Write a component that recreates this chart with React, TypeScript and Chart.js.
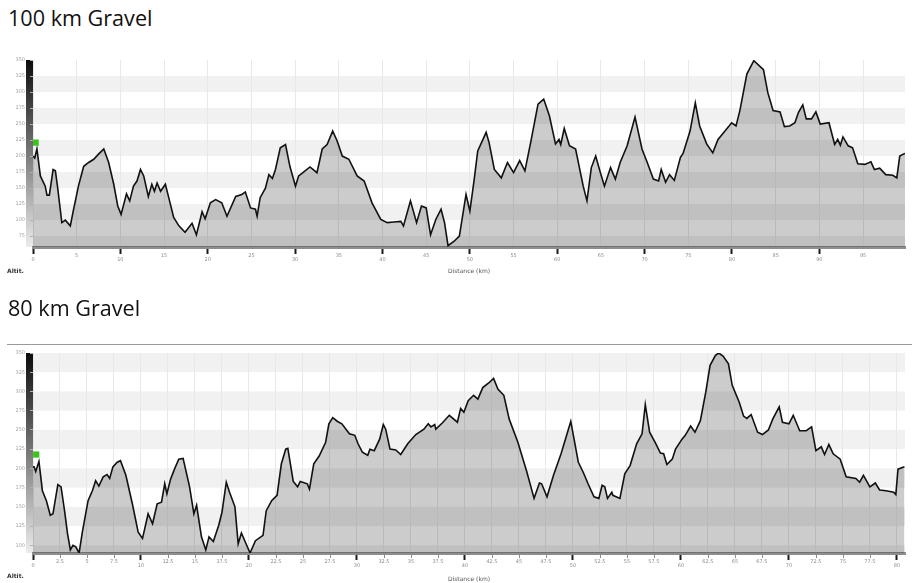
import React, { useEffect, useRef } from "react";
import { Chart, registerables } from "chart.js";

Chart.register(...registerables);

// ---------- 100 km Gravel ----------
const dist100 = [
  0, 0.2, 0.45, 0.84, 1.4, 1.6, 1.87, 2.3, 2.56, 2.8, 3.3, 3.7, 4.27, 4.65, 5.2, 5.8, 6.37, 6.95, 7.5, 8.1,
  8.66, 9.24, 9.7, 10.08, 10.7, 11.07, 11.5, 11.9, 12.3, 12.67, 13.2, 13.6, 13.9, 14.2, 14.6, 15.15, 15.5, 16.1, 16.7, 17.4,
  18.2, 18.7, 19.35, 19.7, 20.3, 20.9, 21.6, 22.2, 23.2, 23.9, 24.3, 24.9, 25.46, 25.65, 26.0, 26.6, 27.0, 27.4, 27.75, 28.3,
  28.9, 29.4, 30.04, 30.4, 30.6, 31.7, 32.5, 33.1, 33.66, 34.3, 34.8, 35.4, 36.15, 37.1, 37.9, 38.8, 39.8, 40.55, 41.3, 42.1,
  42.4, 43.2, 43.9, 44.46, 45.0, 45.5, 46.1, 46.7, 47.1, 47.5, 48.2, 48.8, 49.56, 50.0, 50.5, 50.9, 51.5, 51.86, 52.2, 52.8,
  53.6, 54.3, 55.0, 55.7, 56.3, 57.0, 57.8, 58.45, 59.1, 59.8, 60.2, 60.4, 60.8, 61.4, 62.1, 62.97, 63.4, 63.9, 64.4, 64.94,
  65.4, 66.1, 66.65, 67.2, 68.0, 68.9, 69.7, 70.3, 71.0, 71.6, 71.9, 72.4, 72.85, 73.4, 74.1, 74.4, 75.2, 75.8, 76.3, 77.1,
  77.8, 78.4, 79.2, 79.96, 80.46, 80.9, 81.7, 82.5, 83.6, 84.1, 84.7, 85.5, 86.0, 86.6, 87.2, 87.6, 88.1, 88.5, 89.1, 89.6,
  90.1, 91.1, 91.75, 92.1, 92.4, 92.7, 93.3, 93.8, 94.4, 95.2, 95.9, 96.3, 96.9, 97.6, 98.4, 98.86, 99.2, 99.6, 99.8,
];
const elev100 = [
  200, 197, 211, 169, 153, 139, 139, 179, 177, 153, 96, 100, 91, 117, 153, 184, 190, 195, 203, 211,
  190, 156, 122, 109, 141, 130, 153, 161, 179, 169, 137, 156, 145, 158, 145, 156, 137, 104, 91, 81,
  95, 77, 113, 102, 127, 132, 127, 106, 137, 140, 144, 119, 117, 106, 135, 150, 171, 165, 179, 213,
  218, 184, 153, 169, 171, 183, 174, 211, 218, 239, 224, 200, 195, 169, 161, 127, 101, 96, 97, 98,
  91, 130, 96, 122, 119, 77, 101, 117, 96, 60, 67, 75, 140, 114, 164, 208, 226, 237, 221, 179,
  166, 190, 174, 193, 177, 224, 281, 289, 263, 219, 226, 218, 243, 216, 211, 153, 130, 182, 200, 174,
  153, 182, 164, 190, 216, 261, 211, 190, 164, 161, 179, 159, 171, 162, 198, 204, 239, 283, 247, 219,
  205, 226, 239, 252, 247, 271, 328, 349, 335, 299, 271, 269, 246, 247, 252, 268, 280, 258, 258, 269,
  250, 252, 218, 226, 217, 230, 216, 213, 188, 187, 191, 179, 181, 171, 170, 166, 200, 203, 204,
];
const xTicks100 = [0, 5, 10, 15, 20, 25, 30, 35, 40, 45, 50, 55, 60, 65, 70, 75, 80, 85, 90, 95];
const yTicks100 = [75, 100, 125, 150, 175, 200, 225, 250, 275, 300, 325, 350];
const markerDist100 = [0.3];
const markerElev100 = [221];

// ---------- 80 km Gravel ----------
const dist80 = [
  0, 0.1, 0.25, 0.55, 0.87, 1.24, 1.6, 1.85, 2.3, 2.6, 2.94, 3.2, 3.46, 3.7, 3.96, 4.27, 4.57, 5.1, 5.5, 5.8,
  6.1, 6.5, 6.86, 7.1, 7.4, 7.8, 8.1, 8.6, 9.2, 9.74, 10.14, 10.66, 11.07, 11.5, 11.9, 12.2, 12.4, 12.74, 13.1, 13.5,
  13.9, 14.5, 14.9, 15.15, 15.6, 16.0, 16.3, 16.7, 17.2, 17.5, 17.9, 18.2, 18.7, 19.0, 19.3, 20.1, 20.6, 21.3, 21.6, 22.1,
  22.6, 23.0, 23.4, 23.6, 24.1, 24.5, 24.75, 25.4, 25.6, 26.0, 26.5, 27.1, 27.4, 27.76, 28.2, 28.6, 29.3, 29.8, 30.1, 30.5,
  31.0, 31.2, 31.6, 32.1, 32.44, 32.66, 33.06, 33.6, 34.05, 34.7, 35.45, 36.2, 36.6, 36.85, 37.2, 37.3, 37.9, 38.55, 39.3, 39.6,
  39.9, 40.3, 40.8, 41.2, 41.65, 42.2, 42.65, 43.05, 43.6, 44.1, 44.9, 45.7, 46.4, 46.9, 47.1, 47.6, 48.2, 48.9, 49.8, 50.5,
  50.95, 51.4, 51.95, 52.4, 52.7, 52.95, 53.2, 53.6, 53.7, 54.35, 54.8, 55.3, 55.9, 56.4, 56.7, 57.1, 57.6, 58.1, 58.4, 58.7,
  59.2, 59.5, 60.1, 60.4, 60.9, 61.3, 61.8, 62.3, 62.7, 63.2, 63.5, 63.9, 64.4, 64.75, 65.4, 65.8, 66.1, 66.5, 67.1, 67.55,
  68.1, 68.5, 69.1, 69.4, 70.0, 70.4, 71.0, 71.6, 72.1, 72.5, 73.0, 73.3, 73.7, 74.1, 74.75, 75.3, 76.2, 76.55, 76.9, 77.5,
  78.0, 78.4, 79.0, 79.7, 79.9, 80.1, 80.7,
];
const elev80 = [
  202, 202, 196, 209, 171, 158, 139, 141, 179, 176, 143, 115, 94, 100, 98, 90, 117, 158, 171, 184,
  177, 189, 192, 187, 202, 208, 210, 191, 154, 117, 109, 141, 128, 154, 156, 180, 167, 186, 199, 212,
  213, 176, 141, 152, 111, 94, 111, 105, 126, 143, 182, 169, 150, 102, 116, 90, 106, 113, 145, 158,
  165, 206, 225, 226, 183, 176, 183, 180, 173, 206, 216, 234, 258, 266, 261, 258, 245, 243, 232, 221,
  217, 225, 223, 238, 257, 251, 225, 224, 218, 232, 244, 251, 258, 254, 257, 251, 259, 269, 260, 278,
  273, 288, 295, 290, 305, 311, 317, 303, 295, 264, 234, 197, 161, 181, 180, 163, 191, 219, 261, 208,
  195, 180, 163, 161, 178, 176, 161, 169, 165, 161, 193, 204, 232, 245, 283, 247, 234, 220, 219, 205,
  212, 225, 238, 243, 255, 247, 262, 299, 334, 347, 350, 346, 336, 308, 286, 268, 265, 270, 247, 244,
  250, 264, 280, 260, 258, 269, 249, 249, 254, 223, 228, 218, 231, 219, 212, 189, 187, 182, 191, 176,
  181, 172, 171, 169, 166, 199, 202,
];
const xTicks80 = [
  0, 2.5, 5, 7.5, 10, 12.5, 15, 17.5, 20, 22.5, 25, 27.5, 30, 32.5, 35, 37.5, 40, 42.5, 45, 47.5,
  50, 52.5, 55, 57.5, 60, 62.5, 65, 67.5, 70, 72.5, 75, 77.5, 80,
];
const yTicks80 = [100, 125, 150, 175, 200, 225, 250, 275, 300, 325, 350];
const markerDist80 = [0.3];
const markerElev80 = [218];

const TICK_FONT = "'DejaVu Sans', sans-serif";
const isMajor = (v: number) => Math.abs(v % 10) < 1e-6;

const backdropPlugin = {
  id: "backdrop",
  beforeDraw(chart: any, _args: any, opts: any) {
    const { ctx, chartArea: a, scales } = chart;
    const y = scales.y;
    const L = opts.firstTick as number;
    const step = 25;
    ctx.save();
    ctx.fillStyle = "#ffffff";
    ctx.fillRect(a.left, a.top, a.right - a.left, a.bottom - a.top);
    for (let k = -1; L + k * step < y.max; k++) {
      if (k % 2 === 0) continue;
      const lo = Math.max(L + k * step, y.min);
      const hi = Math.min(L + (k + 1) * step, y.max);
      const yt = y.getPixelForValue(hi);
      const yb = y.getPixelForValue(lo);
      ctx.fillStyle = "#f1f1f1";
      ctx.fillRect(a.left, yt, a.right - a.left, yb - yt);
    }
    const g = ctx.createLinearGradient(0, a.top, 0, a.bottom);
    g.addColorStop(0, "#0c0c0c");
    g.addColorStop(0.45, "#6e6e6e");
    g.addColorStop(1, "#ececec");
    ctx.fillStyle = g;
    ctx.fillRect(a.left - 7, a.top, 7, a.bottom - a.top);
    ctx.restore();
  },
  afterDraw(chart: any, _args: any, opts: any) {
    if (!opts.minorTicks) return;
    const { ctx, chartArea: a, scales } = chart;
    const x = scales.x;
    ctx.save();
    ctx.strokeStyle = "#8c8c8c";
    ctx.lineWidth = 1;
    for (const t of x.ticks) {
      if (isMajor(t.value)) continue;
      const px = Math.round(x.getPixelForValue(t.value)) + 0.5;
      ctx.beginPath();
      ctx.moveTo(px, a.bottom + 1);
      ctx.lineTo(px, a.bottom + 5);
      ctx.stroke();
    }
    ctx.restore();
  },
};

function buildConfig(
  dist: number[],
  elev: number[],
  mDist: number[],
  mElev: number[],
  xTicks: number[],
  yTicks: number[],
  xMax: number,
  yMin: number,
  padTop: number,
  axisHeight: number,
  titlePadBottom: number,
  minorTicks: boolean
): any {
  return {
    type: "line",
    data: {
      datasets: [
        {
          data: mDist.map((d, i) => ({ x: d, y: mElev[i] })),
          showLine: false,
          pointStyle: "rect",
          pointRadius: 4.4,
          pointBackgroundColor: "#3cc21c",
          pointBorderWidth: 0,
          fill: false,
        },
        {
          data: dist.map((d, i) => ({ x: d, y: elev[i] })),
          borderColor: "#111111",
          borderWidth: 1.6,
          pointRadius: 0,
          tension: 0,
          fill: "start",
          backgroundColor: "rgba(0,0,0,0.2)",
        },
      ],
    },
    options: {
      animation: false,
      responsive: false,
      maintainAspectRatio: false,
      events: [],
      layout: { padding: { left: 0, right: 7, top: padTop, bottom: 0 } },
      plugins: {
        legend: { display: false },
        tooltip: { enabled: false },
        backdrop: { firstTick: yTicks[0], minorTicks },
      },
      scales: {
        x: {
          type: "linear",
          min: 0,
          max: xMax,
          afterBuildTicks: (s: any) => {
            s.ticks = xTicks.map((v) => ({ value: v }));
          },
          afterFit: (s: any) => {
            s.height = axisHeight;
          },
          grid: {
            color: "#e8e8e8",
            lineWidth: 1,
            drawTicks: true,
            tickLength: 7,
            tickColor: (c: any) => (c.tick && isMajor(c.tick.value) ? "#1a1a1a" : "rgba(0,0,0,0)"),
            tickWidth: (c: any) => (c.tick && isMajor(c.tick.value) ? 2 : 1),
          },
          border: { display: true, color: "#8e8e8e", width: 3 },
          ticks: {
            autoSkip: false,
            maxRotation: 0,
            padding: 0,
            color: "#8c8c8c",
            font: { size: 5, family: TICK_FONT, lineHeight: 0.8 },
            callback: (v: number) => (isMajor(v) ? ["", String(v)] : String(v)),
          },
          title: {
            display: true,
            text: "Distance (km)",
            color: "#555555",
            font: { size: 6, family: TICK_FONT },
            padding: { top: 0, bottom: titlePadBottom },
          },
        },
        y: {
          type: "linear",
          min: yMin,
          max: 350,
          afterBuildTicks: (s: any) => {
            s.ticks = yTicks.map((v) => ({ value: v }));
          },
          afterFit: (s: any) => {
            s.width = 33;
          },
          grid: { drawOnChartArea: false, drawTicks: true, tickLength: 3, tickColor: "#b0b0b0" },
          border: { display: false },
          ticks: {
            padding: 5,
            color: "#a4a4a4",
            font: { size: 5, family: TICK_FONT },
          },
        },
      },
    },
    plugins: [backdropPlugin],
  };
}

function ProfileChart(props: { config: () => any; top: number; height: number }) {
  const ref = useRef<HTMLCanvasElement | null>(null);
  useEffect(() => {
    if (!ref.current) return;
    const chart = new Chart(ref.current, props.config());
    return () => chart.destroy();
  }, []);
  return (
    <canvas
      ref={ref}
      width={912}
      height={props.height}
      style={{ position: "absolute", left: 0, top: props.top, width: 912, height: props.height }}
    />
  );
}

const titleStyle: React.CSSProperties = {
  position: "absolute",
  left: 8,
  margin: 0,
  fontFamily: "'Open Sans', sans-serif",
  fontSize: 21.6,
  fontWeight: 400,
  lineHeight: "22px",
  color: "#111",
  whiteSpace: "nowrap",
};

const altStyle: React.CSSProperties = {
  position: "absolute",
  left: 7,
  fontFamily: TICK_FONT,
  fontSize: 6,
  fontWeight: 700,
  lineHeight: "6px",
  color: "#333",
};

export default function App() {
  return (
    <div
      style={{
        position: "absolute",
        left: 0,
        top: 0,
        width: 912,
        height: 583,
        overflow: "hidden",
        background: "#fff",
      }}
    >
      <div style={{ ...titleStyle, top: 7 }}>100 km Gravel</div>
      <ProfileChart
        top={50}
        height={235}
        config={() =>
          buildConfig(dist100, elev100, markerDist100, markerElev100, xTicks100, yTicks100, 99.8, 58, 10, 38, 10, false)
        }
      />
      <div style={{ ...altStyle, top: 268 }}>Altit.</div>

      <div style={{ ...titleStyle, top: 297 }}>80 km Gravel</div>
      <div style={{ position: "absolute", left: 7, top: 344, width: 905, height: 1, background: "#999" }} />
      <ProfileChart
        top={345}
        height={238}
        config={() =>
          buildConfig(dist80, elev80, markerDist80, markerElev80, xTicks80, yTicks80, 80.75, 90, 7, 30, 0, true)
        }
      />
      <div style={{ ...altStyle, top: 573 }}>Altit.</div>
    </div>
  );
}
